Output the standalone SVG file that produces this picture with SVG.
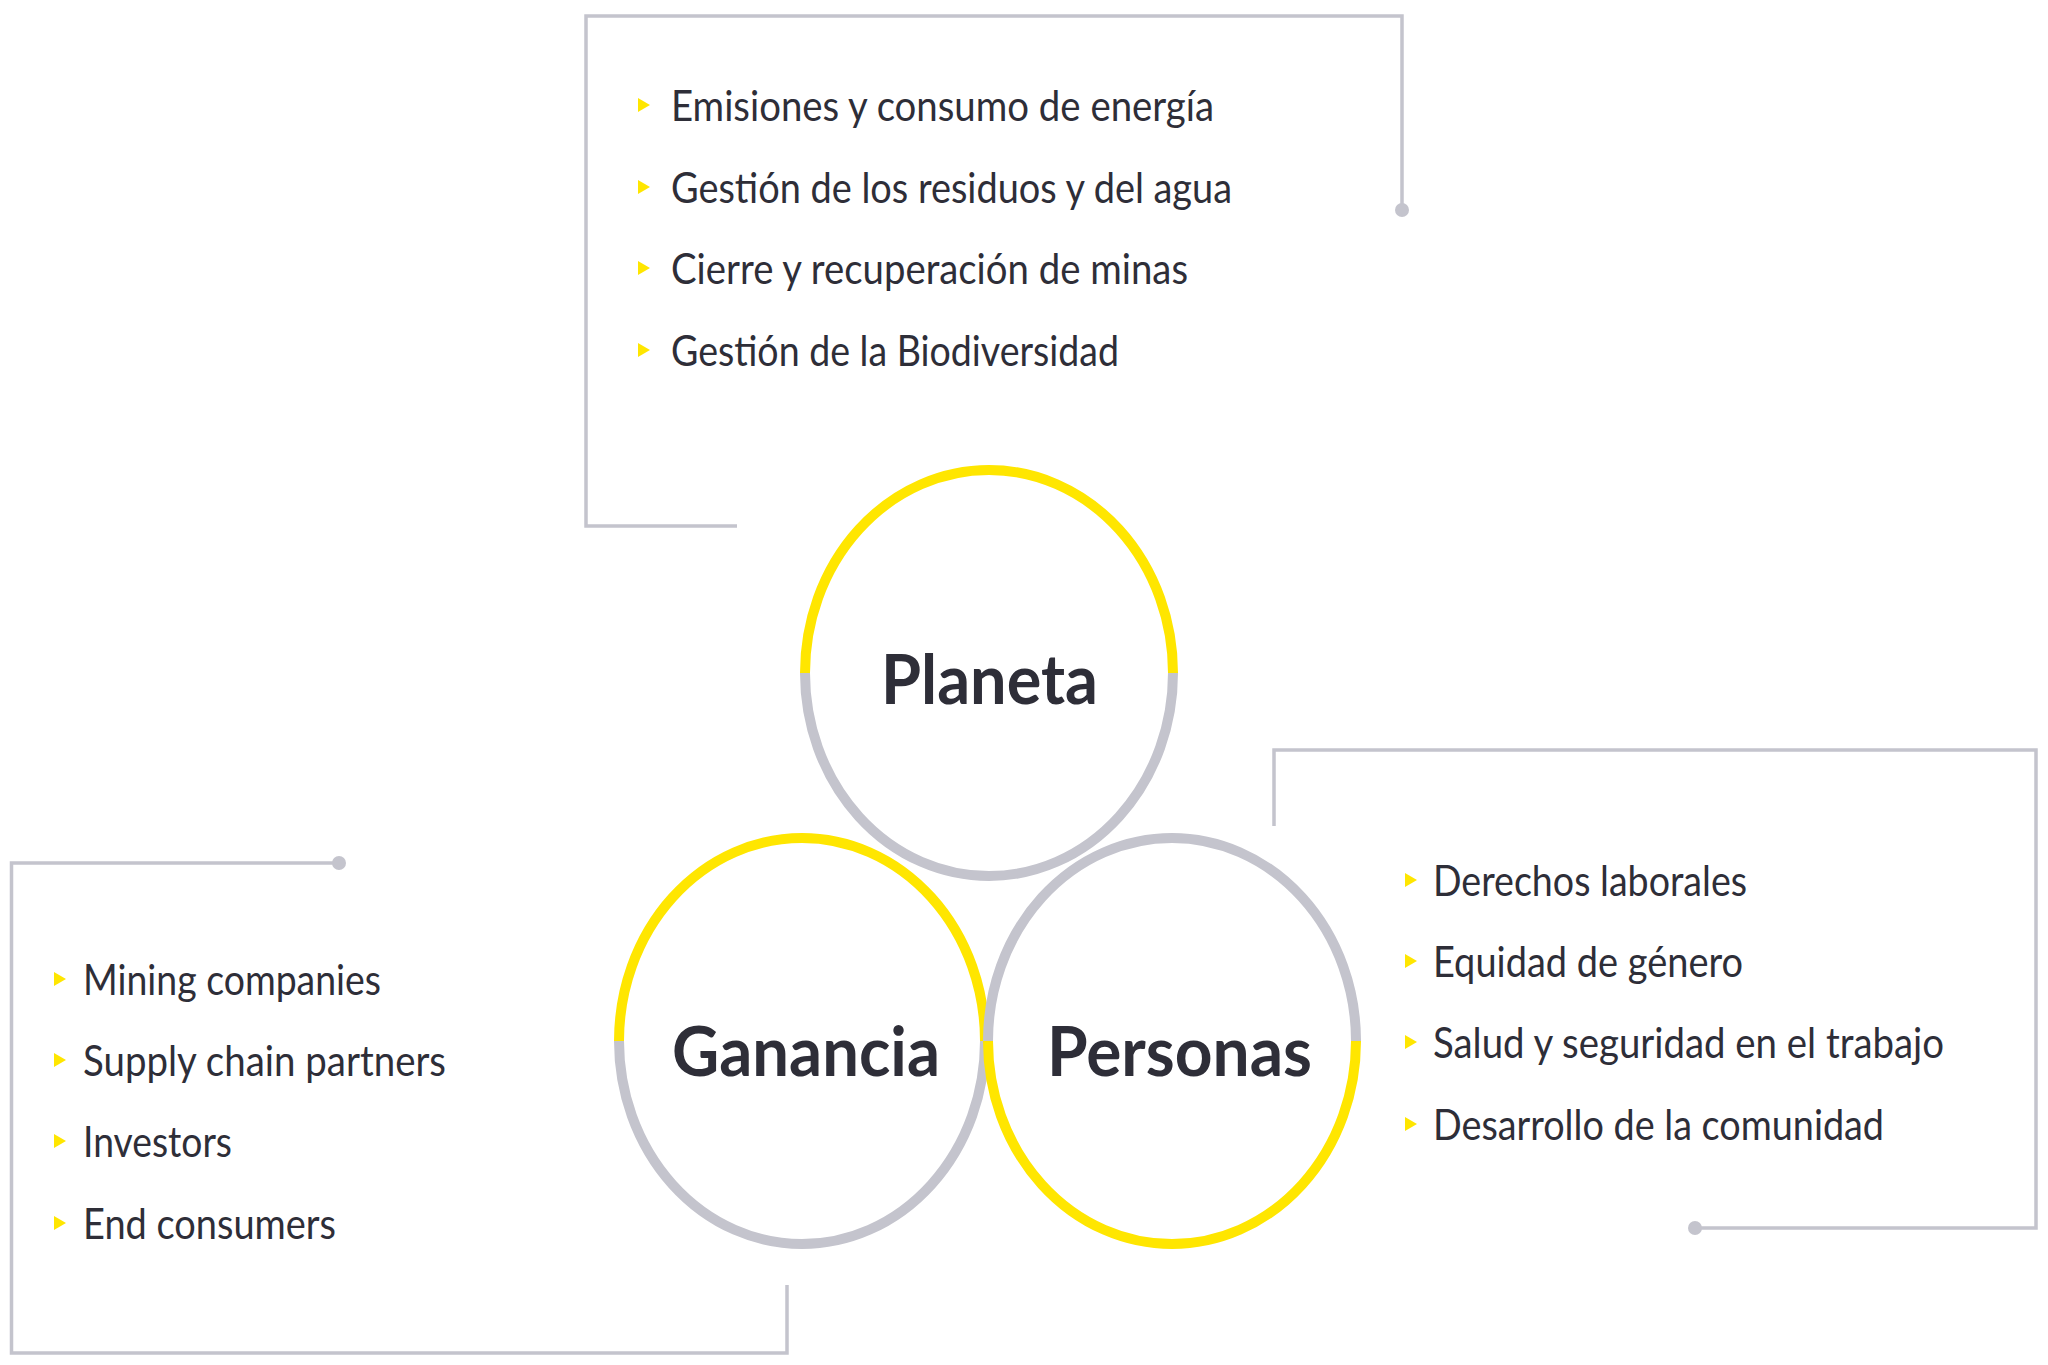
<svg xmlns="http://www.w3.org/2000/svg" width="2048" height="1365" viewBox="0 0 2048 1365">
<style>
.frame{fill:none;stroke:#C4C4CD;stroke-width:3.5}
.dot{fill:#C4C4CD}
.arcY{fill:none;stroke:#FFE600;stroke-width:10}
.arcG{fill:none;stroke:#C4C4CD;stroke-width:10}
.item{font-family:"Lato","Open Sans","Liberation Sans",sans-serif;font-weight:400;font-size:42px;fill:#2E2E38}
.title{font-family:"Lato","Noto Sans","Liberation Sans",sans-serif;font-weight:bold;font-size:69px;fill:#2E2E38}
.bul{fill:#FFE600}
</style>
<rect width="2048" height="1365" fill="#FFFFFF"/>
<g id="connectors">
<path class="frame" d="M737 526 H586 V16 H1402 V210"/>
<circle class="dot" cx="1402" cy="210" r="7"/>
<path class="frame" d="M339 863 H11.5 V1353 H787 V1285"/>
<circle class="dot" cx="339" cy="863" r="7"/>
<path class="frame" d="M1274 826 V750 H2036 V1228 H1695"/>
<circle class="dot" cx="1695" cy="1228" r="7"/>
</g>
<g id="ganancia">
<path class="arcY" d="M619 1041 A183 203 0 0 1 985 1041"/>
<path class="arcG" d="M985 1041 A183 203 0 0 1 619 1041"/>
<text class="title" x="672" y="1076" textLength="268" lengthAdjust="spacingAndGlyphs">Ganancia</text>
</g>
<g id="personas">
<path class="arcG" d="M988 1041 A184 203 0 0 1 1356 1041"/>
<path class="arcY" d="M1356 1041 A184 203 0 0 1 988 1041"/>
<text class="title" x="1047" y="1076" textLength="265" lengthAdjust="spacingAndGlyphs">Personas</text>
</g>
<g id="planeta">
<path class="arcY" d="M805 673 A184 203 0 0 1 1173 673"/>
<path class="arcG" d="M1173 673 A184 203 0 0 1 805 673"/>
<text class="title" x="881" y="704" textLength="217" lengthAdjust="spacingAndGlyphs">Planeta</text>
</g>
<g id="planeta-list">
<path class="bul" d="M638 98 L650 105 L638 112 Z"/>
<text class="item" x="671" y="121" textLength="543" lengthAdjust="spacingAndGlyphs">Emisiones y consumo de energía</text>
<path class="bul" d="M638 180 L650 187 L638 194 Z"/>
<text class="item" x="671" y="203" textLength="561" lengthAdjust="spacingAndGlyphs">Gestión de los residuos y del agua</text>
<path class="bul" d="M638 261 L650 268 L638 275 Z"/>
<text class="item" x="671" y="284" textLength="517" lengthAdjust="spacingAndGlyphs">Cierre y recuperación de minas</text>
<path class="bul" d="M638 343 L650 350 L638 357 Z"/>
<text class="item" x="671" y="366" textLength="448" lengthAdjust="spacingAndGlyphs">Gestión de la Biodiversidad</text>
</g>
<g id="ganancia-list">
<path class="bul" d="M54 972 L66 979 L54 986 Z"/>
<text class="item" x="83" y="995" textLength="298" lengthAdjust="spacingAndGlyphs">Mining companies</text>
<path class="bul" d="M54 1053 L66 1060 L54 1067 Z"/>
<text class="item" x="83" y="1076" textLength="363" lengthAdjust="spacingAndGlyphs">Supply chain partners</text>
<path class="bul" d="M54 1134 L66 1141 L54 1148 Z"/>
<text class="item" x="83" y="1157" textLength="149" lengthAdjust="spacingAndGlyphs">Investors</text>
<path class="bul" d="M54 1216 L66 1223 L54 1230 Z"/>
<text class="item" x="83" y="1239" textLength="253" lengthAdjust="spacingAndGlyphs">End consumers</text>
</g>
<g id="personas-list">
<path class="bul" d="M1405 873 L1417 880 L1405 887 Z"/>
<text class="item" x="1433" y="896" textLength="314" lengthAdjust="spacingAndGlyphs">Derechos laborales</text>
<path class="bul" d="M1405 954 L1417 961 L1405 968 Z"/>
<text class="item" x="1433" y="977" textLength="310" lengthAdjust="spacingAndGlyphs">Equidad de género</text>
<path class="bul" d="M1405 1035 L1417 1042 L1405 1049 Z"/>
<text class="item" x="1433" y="1058" textLength="511" lengthAdjust="spacingAndGlyphs">Salud y seguridad en el trabajo</text>
<path class="bul" d="M1405 1117 L1417 1124 L1405 1131 Z"/>
<text class="item" x="1433" y="1140" textLength="451" lengthAdjust="spacingAndGlyphs">Desarrollo de la comunidad</text>
</g>
</svg>
